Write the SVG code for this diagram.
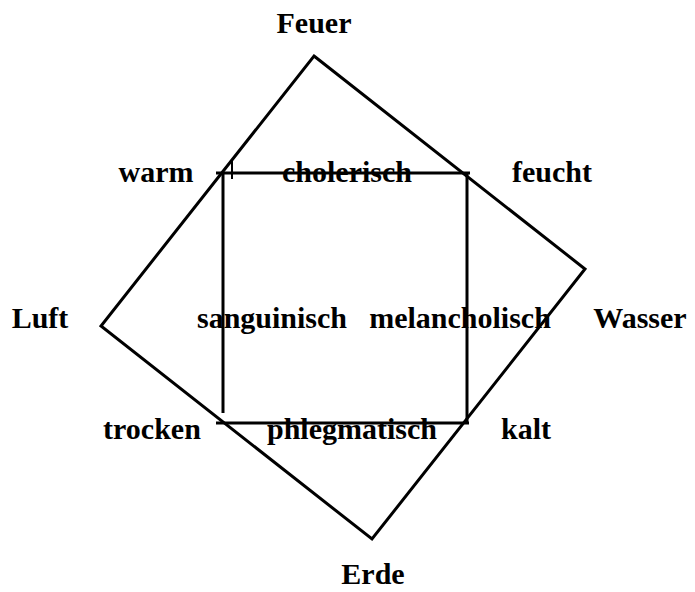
<svg xmlns="http://www.w3.org/2000/svg" width="695" height="592" viewBox="0 0 695 592">
<style>
.t{font-family:"Liberation Serif","Times New Roman",serif;font-weight:bold;font-size:30px;fill:#000;text-anchor:middle}
.s{fill:none;stroke:#000;stroke-width:3}
</style>
<rect width="695" height="592" fill="#fff"/>
<g id="connectors">
<polygon class="s" points="314,56 585,269 372,539 101,326" stroke-linejoin="miter"/>
<line class="s" x1="216" y1="173" x2="470" y2="173"/>
<line class="s" x1="216" y1="423" x2="469" y2="423"/>
<line class="s" x1="223" y1="173" x2="223" y2="413"/>
<line class="s" x1="467" y1="173" x2="467" y2="424"/>
<line stroke="#000" stroke-width="2" x1="232" y1="159" x2="232" y2="179"/>
</g>
<g id="feuer"><text class="t" x="314" y="33">Feuer</text></g>
<g id="warm"><text class="t" x="156" y="182">warm</text></g>
<g id="cholerisch"><text class="t" x="347" y="182">cholerisch</text></g>
<g id="feucht"><text class="t" x="552" y="182">feucht</text></g>
<g id="luft"><text class="t" x="40" y="328">Luft</text></g>
<g id="sanguinisch"><text class="t" x="272" y="328">sanguinisch</text></g>
<g id="melancholisch"><text class="t" x="460" y="328">melancholisch</text></g>
<g id="wasser"><text class="t" x="640" y="328">Wasser</text></g>
<g id="trocken"><text class="t" x="152" y="439">trocken</text></g>
<g id="phlegmatisch"><text class="t" x="352" y="439">phlegmatisch</text></g>
<g id="kalt"><text class="t" x="526" y="439">kalt</text></g>
<g id="erde"><text class="t" x="373" y="584">Erde</text></g>
</svg>
